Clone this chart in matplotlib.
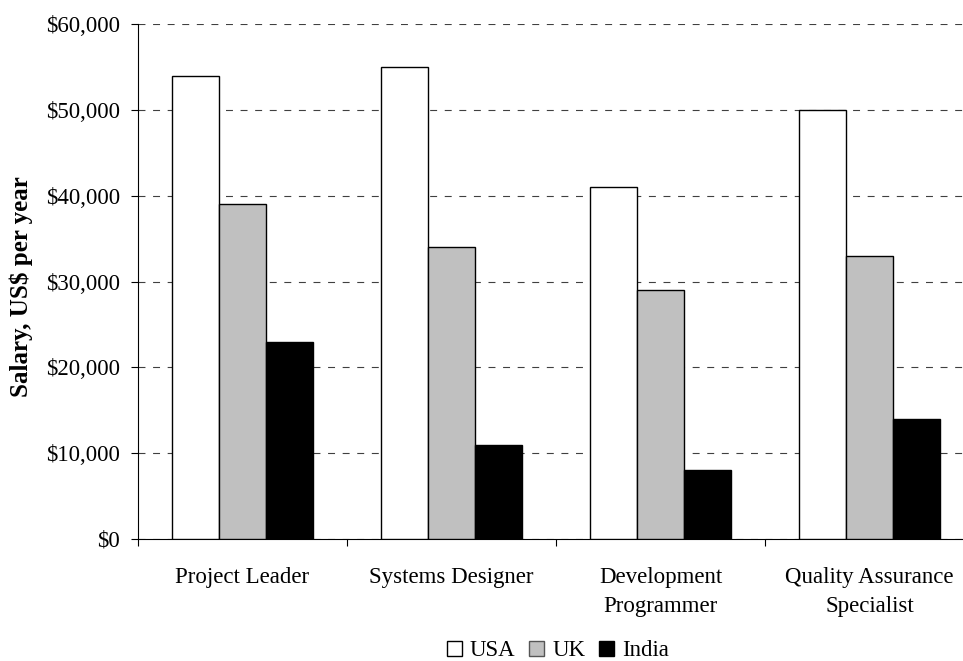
import matplotlib
matplotlib.use("Agg")
import matplotlib.pyplot as plt
import numpy as np
from matplotlib.patches import Patch

categories = ["Project Leader", "Systems Designer", "Development\nProgrammer", "Quality Assurance\nSpecialist"]
series_names = ["USA", "UK", "India"]
usa = [54000, 55000, 41000, 50000]
uk = [39000, 34000, 29000, 33000]
india = [23000, 11000, 8000, 14000]
yticks = [0, 10000, 20000, 30000, 40000, 50000, 60000]
ytick_labels = ["$0", "$10,000", "$20,000", "$30,000", "$40,000", "$50,000", "$60,000"]

plt.rcParams['font.family'] = ['Liberation Serif', 'DejaVu Serif']
plt.rcParams['lines.scale_dashes'] = False

fig = plt.figure(figsize=(9.63, 6.61), dpi=100)
ax = fig.add_axes([138/963, 122/661, 836/963, 515/661])

colors = ["white", "#c0c0c0", "black"]
edges = ["black", "#555555", "black"]
values = [usa, uk, india]
x = np.arange(len(categories)) + 0.5
w = 0.225
for i, (vals, c) in enumerate(zip(values, colors)):
    ax.bar(x + (i - 1) * w, vals, width=w, color=c, edgecolor="black", linewidth=1.0, zorder=3)

FS = 16.5
ax.set_xlim(0, len(categories))
ax.set_ylim(0, 60000)
ax.set_yticks(yticks)
ax.set_yticklabels(ytick_labels, fontsize=FS)
ax.tick_params(axis='y', length=5, width=0.8, pad=8, direction='out')
ax.set_xticks(x)
ax.set_xticklabels(categories, fontsize=FS, linespacing=1.5)
ax.tick_params(axis='x', which='major', length=0, pad=20.5)
ax.set_xticks(np.arange(len(categories) + 1), minor=True)
ax.tick_params(axis='x', which='minor', length=5, width=0.8, direction='out')

ax.yaxis.grid(True, linestyle=(0, (5, 5.5)), color="#404040", linewidth=0.8, zorder=0)
ax.set_axisbelow(True)
for s in ["top", "right"]:
    ax.spines[s].set_visible(False)
ax.spines["left"].set_linewidth(0.8)
ax.spines["bottom"].set_linewidth(0.8)

ax.set_ylabel("Salary, US$ per year", fontsize=18, fontweight="bold")
ax.yaxis.set_label_coords(-0.1256, 0.491)

handles = [Patch(facecolor=c, edgecolor=ec, linewidth=1.0) for c, ec in zip(colors, edges)]
fig.legend(handles, series_names, loc="center", bbox_to_anchor=(558/963, 1 - 651/661),
           ncol=3, frameon=False, fontsize=FS, handlelength=0.65, handleheight=0.65,
           handletextpad=0.35, columnspacing=0.6, borderpad=0)

fig.savefig("out.png", dpi=100)
